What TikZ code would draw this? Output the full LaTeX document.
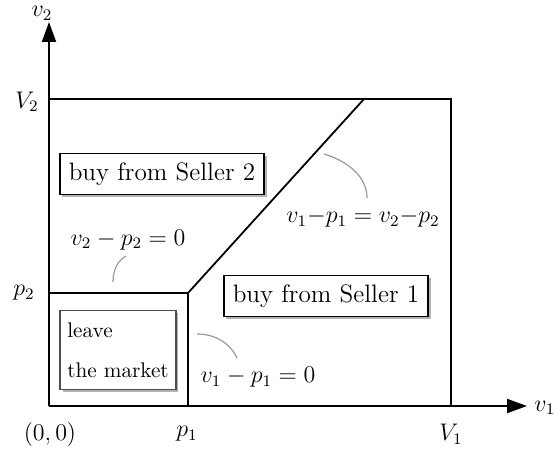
\documentclass[tikz,border=0pt]{standalone}
\usetikzlibrary{arrows.meta,shadows}
\begin{document}
\begin{tikzpicture}[x=0.5pt,y=-0.5pt,
  font=\fontsize{12}{14}\selectfont,
  axis/.style={line width=1pt,-{Triangle[length=10pt,width=7pt]}},
  edge/.style={line width=0.9pt},
  region/.style={draw,line width=0.9pt,fill=white,inner sep=4.5pt,font=\fontsize{12.6}{15}\selectfont,drop shadow={shadow xshift=1.2pt,shadow yshift=-1.2pt,opacity=0.6}},
  hint/.style={draw=gray!80,line width=0.6pt}]
\useasboundingbox (0,0) rectangle (556,454);
\coordinate (O) at (49,406);
\coordinate (ytop) at (49,22);
\coordinate (xend) at (527,406);
\coordinate (V2L) at (49,99);
\coordinate (V2R) at (451,99);
\coordinate (V1B) at (451,406);
\coordinate (P2L) at (49,293);
\coordinate (K) at (188,293);
\coordinate (P1B) at (188,406);
\coordinate (D) at (364,99);
% axes
\draw[axis] (O) -- (ytop);
\draw[axis] (O) -- (xend);
% boundary lines
\draw[edge] (V2L) -- (V2R) -- (V1B);
\draw[edge] (P2L) -- (K) -- (P1B);
\draw[edge] (K) -- (D);
% axis labels
\node[inner sep=0pt,anchor=north] (lv2) at (42,6) {$v_2$};
\node (lV2) at (27,102) {$V_2$};
\node (lp2) at (24,293) {$p_2$};
\node (l00) at (50,434) {$(0,0)$};
\node (lp1) at (187,434) {$p_1$};
\node (lV1) at (451,434) {$V_1$};
\node[anchor=west,inner sep=0pt] (lv1) at (534,408) {$v_1$};
% regions
\node[region] (s2) at (162,174) {buy from Seller 2};
\node[region] (s1) at (326,296) {buy from Seller 1};
\node[region,draw=black!70,align=left,font=\fontsize{10.6}{20}\selectfont,inner xsep=3.5pt,inner ysep=6pt] (lm) at (118,350) {leave\\the market};
% equation labels
\node (e2) at (128,240) {$v_2-p_2=0$};
\node (e1) at (258,377) {$v_1-p_1=0$};
\node (e12) at (363,218) {$v_1{-}p_1=v_2{-}p_2$};
% hint curves
\coordinate (a2) at (113,282);
\coordinate (b2) at (126,256);
\draw[hint] (a2) .. controls (113,268) and (119,260) .. (b2);
\coordinate (a1) at (197,334);
\coordinate (b1) at (237,358);
\draw[hint] (a1) .. controls (215,334) and (230,343) .. (b1);
\coordinate (a12) at (324,154);
\coordinate (b12) at (367,198);
\draw[hint] (a12) .. controls (350,162) and (367,178) .. (b12);
\end{tikzpicture}
\end{document}
